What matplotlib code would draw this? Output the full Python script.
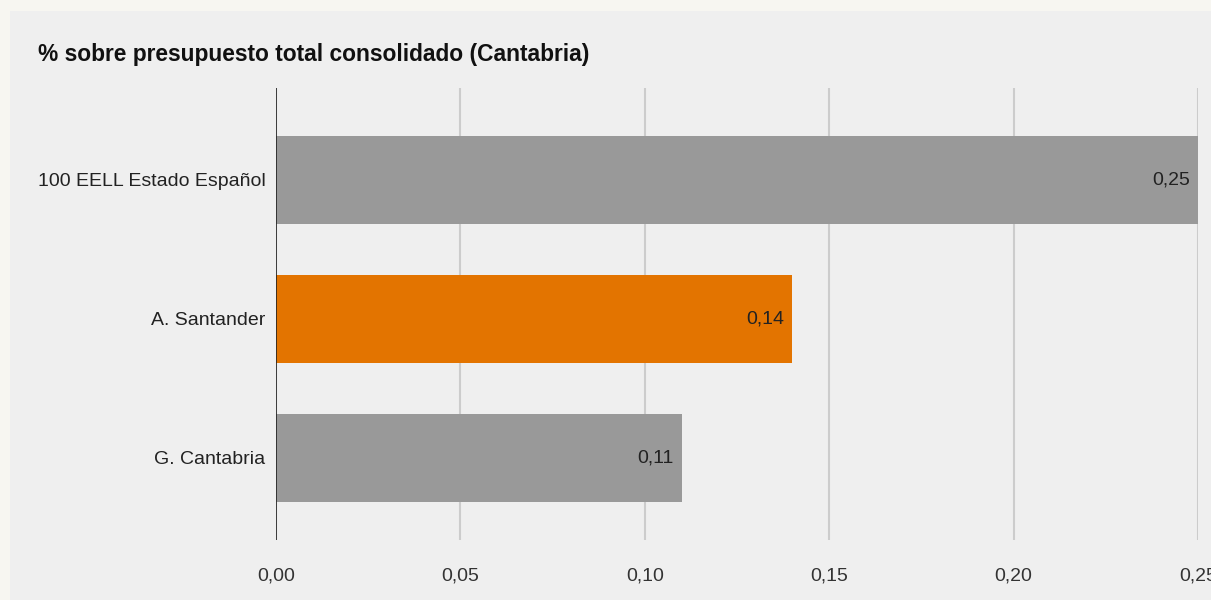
import matplotlib.pyplot as plt
from matplotlib.patches import Rectangle

plt.rcParams['font.family'] = ['Liberation Sans', 'DejaVu Sans']

categorias = ['100 EELL Estado Español', 'A. Santander', 'G. Cantabria']
valores = [0.25, 0.14, 0.11]
colores = ['#999999', '#e37400', '#999999']
ticks = [0.00, 0.05, 0.10, 0.15, 0.20, 0.25]

fig = plt.figure(figsize=(12.11, 6), dpi=100, facecolor='#f7f6f1')
# panel gris claro
fig.add_artist(Rectangle((10 / 1211, 0), 1, 1 - 11 / 600, transform=fig.transFigure,
                         facecolor='#efefef', edgecolor='none', zorder=-5))

ax = fig.add_axes([276 / 1211, 0.1, 922 / 1211, 452 / 600])
ax.set_facecolor('none')

y = range(len(categorias))
ax.barh(y, valores, height=0.63, color=colores, zorder=2)
for i, v in enumerate(valores):
    ax.text(v - 0.0022, i, f'{v:.2f}'.replace('.', ','), ha='right', va='center',
            fontsize=14, color='#222222', zorder=3)

ax.set_xlim(0, 0.25)
ax.set_ylim(2.59, -0.66)
ax.set_xticks(ticks)
ax.set_xticklabels([f'{t:.2f}'.replace('.', ',') for t in ticks], fontsize=14, color='#333333')
ax.set_yticks(list(y))
ax.set_yticklabels(categorias, fontsize=14, color='#222222')
ax.tick_params(axis='both', length=0)
ax.tick_params(axis='x', pad=20)
ax.tick_params(axis='y', pad=7.5)
for s in ax.spines.values():
    s.set_visible(False)
ax.grid(axis='x', color='#cccccc', linewidth=1.5, zorder=1)
ax.axvline(0, color='#222222', linewidth=1.2, zorder=3)

fig.text(38 / 1211, 1 - 55 / 600, '% sobre presupuesto total consolidado (Cantabria)',
         fontsize=16.4, fontweight='bold', color='#111111', va='center', ha='left')

fig.savefig('out.png', dpi=100, facecolor=fig.get_facecolor())
